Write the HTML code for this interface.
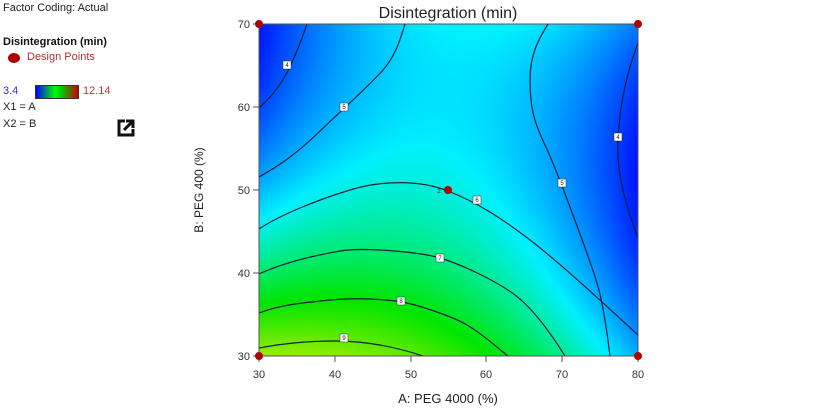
<!DOCTYPE html>
<html><head><meta charset="utf-8"><style>
body{margin:0;background:#fff;width:839px;height:413px;overflow:hidden;font-family:"Liberation Sans",sans-serif;position:relative}
.t{position:absolute;white-space:nowrap}
canvas{position:absolute;left:259px;top:24px}
svg{position:absolute;left:0;top:0}
</style></head><body>
<div class="t" style="left:3px;top:2px;font-size:11px;color:#222">Factor Coding: Actual</div>
<div class="t" style="left:3px;top:36px;font-size:11px;font-weight:bold;color:#111">Disintegration (min)</div>
<div style="position:absolute;left:8px;top:53px;width:12px;height:10px;border-radius:50%;background:#b00000"></div>
<div class="t" style="left:27px;top:51px;font-size:11px;color:#b03030">Design Points</div>
<div class="t" style="left:3px;top:85px;font-size:11px;color:#3030d0">3.4</div>
<div style="position:absolute;left:35px;top:85px;width:42px;height:12px;border:1px solid #333;background:linear-gradient(to right,#00f,#0f0 45%,#0c0 60%,#c00)"></div>
<div class="t" style="left:83px;top:85px;font-size:11px;color:#d03030">12.14</div>
<div class="t" style="left:3px;top:101px;font-size:11px;color:#222">X1 = A</div>
<div class="t" style="left:3px;top:118px;font-size:11px;color:#222">X2 = B</div>
<svg width="839" height="413" viewBox="0 0 839 413">
<g transform="translate(117,119)"><path d="M8 2 H2 V16 H16 V10" stroke="#111" stroke-width="3" fill="none"/><path d="M7 11 L15 3 M9 2 H16 V9" stroke="#111" stroke-width="3" fill="none"/></g>
</svg>
<canvas id="c" width="379" height="332"></canvas>
<svg width="839" height="413" viewBox="0 0 839 413">
<g fill="none" stroke="#10203a" stroke-width="1.2">
<path d="M259,108 C268,100 277,90 284,78 S300,45 307,24"/>
<path d="M259,177 C275,168 293,157 318,133 S370,85 383,70 S400,40 405,24"/>
<path d="M548,24 C538,40 530,55 530,80 S533,120 545,145 S590,260 597,283 S608,340 610,356"/>
<path d="M638,43 C628,70 620,100 618,140 S630,215 638,238"/>
<path d="M259,229 C280,215 317,200 350,190 S420,180 448,191 S500,217 530,240 S600,300 638,335"/>
<path d="M259,274 C285,262 317,255 340,251 S420,252 440,258 S495,280 515,295 S555,340 565,356"/>
<path d="M259,313 C280,305 300,303 330,300 S390,300 402,302 S450,315 467,325 S500,350 508,356"/>
<path d="M259,348 C285,343 310,341 335,341 S390,345 423,356"/>
</g>
<g font-size="6" text-anchor="middle" fill="#222">
<rect x="283" y="61" width="8" height="8" fill="#fff" stroke="#333" stroke-width=".5"/><text x="287" y="67">4</text>
<rect x="340" y="103" width="8" height="8" fill="#fff" stroke="#333" stroke-width=".5"/><text x="344" y="109">5</text>
<rect x="614" y="133" width="8" height="8" fill="#fff" stroke="#333" stroke-width=".5"/><text x="618" y="139">4</text>
<rect x="558" y="179" width="8" height="8" fill="#fff" stroke="#333" stroke-width=".5"/><text x="562" y="185">5</text>
<rect x="473" y="196" width="8" height="8" fill="#fff" stroke="#333" stroke-width=".5"/><text x="477" y="202">6</text>
<rect x="436" y="254" width="8" height="8" fill="#fff" stroke="#333" stroke-width=".5"/><text x="440" y="260">7</text>
<rect x="397" y="297" width="8" height="8" fill="#fff" stroke="#333" stroke-width=".5"/><text x="401" y="303">8</text>
<rect x="340" y="334" width="8" height="8" fill="#fff" stroke="#333" stroke-width=".5"/><text x="344" y="340">9</text>
<text x="439" y="193">2</text>
</g>
<rect x="259" y="24" width="379" height="332" fill="none" stroke="#555" stroke-width="1"/>
<g stroke="#555"><path d="M253,24H259M253,107H259M253,190H259M253,273H259M253,356H259M259,356V362M335,356V362M411,356V362M486,356V362M562,356V362M638,356V362"/></g>
<g fill="#b00000"><circle cx="259" cy="24" r="4"/><circle cx="638" cy="24" r="4"/><circle cx="259" cy="356" r="4"/><circle cx="638" cy="356" r="4"/><circle cx="448" cy="190" r="4"/></g>
<g font-size="11" fill="#333" text-anchor="end"><text x="250" y="28">70</text><text x="250" y="111">60</text><text x="250" y="194">50</text><text x="250" y="277">40</text><text x="250" y="360">30</text></g>
<g font-size="11" fill="#333" text-anchor="middle"><text x="259" y="378">30</text><text x="335" y="378">40</text><text x="411" y="378">50</text><text x="486" y="378">60</text><text x="562" y="378">70</text><text x="638" y="378">80</text></g>
<text x="448" y="403" font-size="13" fill="#222" text-anchor="middle">A: PEG 4000 (%)</text>
<text x="0" y="0" font-size="12" fill="#222" text-anchor="middle" transform="translate(203,190) rotate(-90)">B: PEG 400 (%)</text>
<text x="448" y="18" font-size="16" fill="#222" text-anchor="middle">Disintegration (min)</text>
</svg>
<script>
var c=document.getElementById('c'),x=c.getContext('2d'),W=379,H=332,im=x.createImageData(W,H);
function f(a,b){return 6-0.8*a-1.25*b+1.3*a*b-1.6*a*a+1.05*b*b+0.2*a*a*b*b-0.3*a*a*b;}
var st=[[0,0,0,255],[.27,0,240,255],[.5,0,230,0],[.75,220,240,0],[1,220,0,0]];
function col(v){var t=(v-3.4)/8.74;t=Math.max(0,Math.min(1,t));for(var i=0;i<4;i++){if(t<=st[i+1][0]){var u=(t-st[i][0])/(st[i+1][0]-st[i][0]);return [0,1,2].map(function(k){return st[i][k+1]+(st[i+1][k+1]-st[i][k+1])*u});}}return [220,0,0];}
for(var j=0;j<H;j++)for(var i=0;i<W;i++){var a=i/(W-1)*2-1,b=1-j/(H-1)*2,p=col(f(a,b)),o=(j*W+i)*4;im.data[o]=p[0];im.data[o+1]=p[1];im.data[o+2]=p[2];im.data[o+3]=255;}
x.putImageData(im,0,0);
</script>
</body></html>
